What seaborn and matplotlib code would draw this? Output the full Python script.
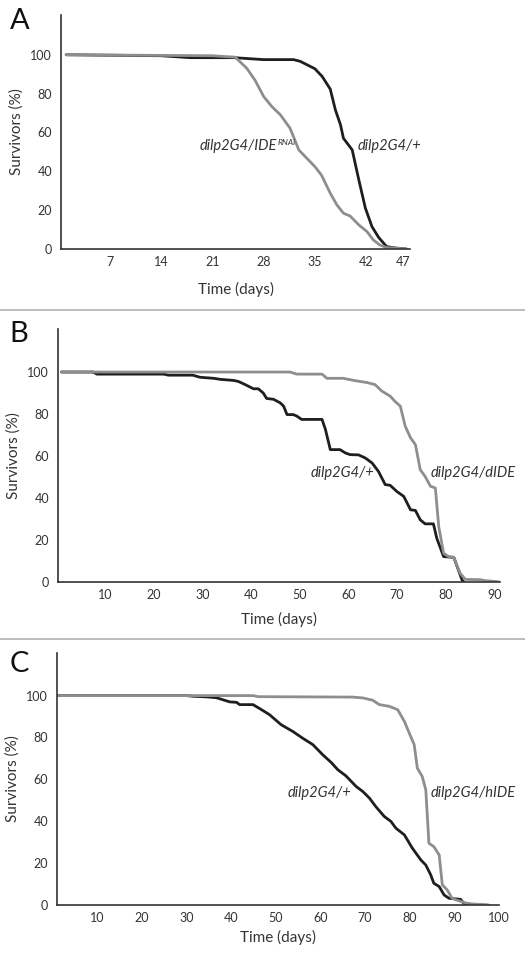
import pandas as pd
import matplotlib.pyplot as plt
import seaborn as sns
from matplotlib.lines import Line2D

# Panel A - survival curves (days, % survivors)
a_ctrl_days = [1, 14, 18, 24, 26, 28, 32.1, 33, 35, 36, 37.1, 37.8, 38.5, 38.9, 40.1, 41, 41.9, 42.8, 43.7, 44.8, 46, 47.5]
a_ctrl_surv = [100, 99.5, 98.5, 98.5, 98, 97.5, 97.5, 96.6, 92.8, 88.8, 82.3, 71.6, 63.9, 57, 51, 35.6, 21, 11.5, 6, 1.2, 0.5, 0]
a_rnai_days = [1, 21, 23, 24.1, 25.7, 26.8, 28, 29.1, 30.3, 31.6, 32.8, 34.1, 35, 35.9, 37.1, 38, 38.9, 39.8, 41, 42.1, 43, 43.9, 44.8, 47.5]
a_rnai_surv = [100, 99.5, 99, 98.8, 93, 87, 78.5, 73.4, 69, 62.2, 51, 45.9, 42.4, 38, 28.7, 22.7, 18.4, 17, 12.4, 9, 4.6, 2, 0.7, 0]

# Panel B
b_ctrl_days = [1, 7.5, 8.3, 22, 23, 28, 29.5, 32.3, 33.7, 36.4, 37.4, 38.8, 40.5, 41.5, 42.5, 43.2, 44.6, 46, 46.7, 47.4, 48.7, 49.4, 50.4,
               54.6, 55.3, 56.3, 58.3, 59.4, 60.4, 62.1, 63.5, 64.9, 66.2, 67.6, 68.6, 70, 71.4, 72.8, 73.8, 74.8, 75.8, 77.5, 78.2,
               79.6, 81.7, 83.4, 83.7]
b_ctrl_surv = [100, 100, 99, 99, 98.5, 98.5, 97.5, 97, 96.5, 96, 95.5, 94, 92, 92, 90, 87.4, 87, 85.3, 83.7, 79.7, 79.7, 79, 77.4,
               77.4, 72.6, 63, 63, 61.4, 60.6, 60.5, 59, 56.6, 52.6, 46.3, 46, 43, 40.7, 34.3, 34, 29.5, 27.6, 27.6, 20.7,
               12, 11.6, 0.8, 0]
b_dide_days = [1, 48, 48.7, 49.4, 54.6, 55.6, 59, 61.1, 63.8, 65.5, 66.9, 68.6, 69.6, 70.7, 71.7, 72.8, 73.8, 74.8, 75.8, 76.9, 77.9,
               78.6, 79.6, 80.6, 81.7, 83.0, 84.1, 87.1, 88.2, 90.9]
b_dide_surv = [100, 100, 99.5, 99, 99, 97, 97, 96, 95, 94, 90.9, 88.5, 86, 83.7, 74.2, 68.6, 65.4, 53.4, 50.2, 45.5, 44.7,
               26.3, 13.6, 12, 11.6, 4, 1.1, 1, 0.5, 0]

# Panel C
c_ctrl_days = [1, 30, 31.5, 34.5, 36.7, 38.2, 39.7, 41.2, 41.9, 44.9, 46.4, 48.6, 51.2, 53.8, 56, 58.3, 60.5, 62.4, 63.9, 65.7, 68,
               69.5, 71, 72.4, 74.3, 75.8, 76.9, 78.8, 80.6, 82.5, 83.6, 84.7, 85.4, 86.6, 87.7, 88.8, 91.4, 92.1, 93.3]
c_ctrl_surv = [100, 100, 99.7, 99.4, 99, 98, 97, 96.8, 95.7, 95.7, 93.8, 90.9, 86.1, 82.9, 79.7, 76.6, 71.8, 68.1, 64.6, 61.7, 56.6,
               54.2, 51, 47, 42.3, 39.9, 36.7, 33.5, 27.1, 21.5, 19.1, 14.4, 10.4, 8.8, 4.8, 3.2, 2.7, 0.8, 0]
c_hide_days = [1, 45, 46, 67.2, 69.5, 71.7, 73.2, 75.4, 77.3, 78.8, 79.9, 81, 81.7, 82.8, 83.6, 84.3, 85.4, 86.6, 87.3, 88.4, 89.5,
               90.3, 92.5, 94, 97, 97.7]
c_hide_surv = [100, 100, 99.5, 99.3, 98.9, 97.8, 95.7, 94.9, 93.3, 87.7, 82.1, 76.6, 65.4, 61.4, 55, 29.5, 27.9, 23.9, 9.6, 7.2, 3.2,
               2.5, 1, 0.5, 0.2, 0]

y_ticks = [0, 20, 40, 60, 80, 100, 120]
y_labels = ['0', '20', '40', '60', '80', '100', '']

BLACK = '#1e1e1e'
GREY = '#8e8e8e'
TXT = '#333333'

sns.set_style("white")
plt.rcParams['font.family'] = ['Lato', 'DejaVu Sans']

fig = plt.figure(figsize=(5.25, 9.59), dpi=100)

panels = [
    dict(letter='A', rect=[0.1162, 0.7404, 0.6648, 0.2440], ly=1 - 21 / 959,
         series=[('dilp2G4/+', a_ctrl_days, a_ctrl_surv, BLACK), ('RNAi', a_rnai_days, a_rnai_surv, GREY)],
         xlim=(0.3, 48), xticks=[7, 14, 21, 28, 35, 42, 47], xlabelpad=10),
    dict(letter='B', rect=[0.1105, 0.3934, 0.8419, 0.2635], ly=1 - 334 / 959,
         series=[('dilp2G4/+', b_ctrl_days, b_ctrl_surv, BLACK), ('dilp2G4/dIDE', b_dide_days, b_dide_surv, GREY)],
         xlim=(0.3, 91.2), xticks=list(range(10, 100, 10)), xlabelpad=8),
    dict(letter='C', rect=[0.1086, 0.0563, 0.8419, 0.2631], ly=1 - 664 / 959,
         series=[('dilp2G4/+', c_ctrl_days, c_ctrl_surv, BLACK), ('dilp2G4/hIDE', c_hide_days, c_hide_surv, GREY)],
         xlim=(1, 100), xticks=list(range(10, 110, 10)), xlabelpad=4),
]

axes = []
for p in panels:
    ax = fig.add_axes(p['rect'])
    frames = []
    for name, d, s, col in p['series']:
        frames.append(pd.DataFrame({'day': d, 'surv': s, 'line': name}))
    df = pd.concat(frames, ignore_index=True)
    pal = {name: col for name, _, _, col in p['series']}
    sns.lineplot(data=df, x='day', y='surv', hue='line', palette=pal, estimator=None, sort=False,
                 linewidth=2.0, legend=False, ax=ax)
    ax.set_xlim(*p['xlim'])
    ax.set_ylim(0, 120.5)
    ax.set_yticks(y_ticks)
    ax.set_yticklabels(y_labels)
    ax.set_xticks(p['xticks'])
    ax.tick_params(axis='both', labelsize=9, length=2.5, width=0.8, color=TXT, labelcolor=TXT, pad=4)
    ax.tick_params(axis='x', length=0, pad=5)
    sns.despine(ax=ax)
    for sp in ['left', 'bottom']:
        ax.spines[sp].set_color(TXT)
        ax.spines[sp].set_linewidth(1.2)
    ax.set_ylabel('Survivors (%)', fontsize=11, color=TXT, labelpad=5)
    ax.set_xlabel('Time (days)', fontsize=11, color=TXT, labelpad=p['xlabelpad'])
    fig.text(0.018, p['ly'], p['letter'], fontsize=21, va='center', ha='left', color='#111111')
    axes.append(ax)

lab = dict(fontsize=10.5, style='italic', color=TXT, va='center', ha='left')
axA, axB, axC = axes
t = axA.text(19.3, 53, 'dilp2G4/IDE', **lab)
axA.annotate('RNAi', xy=(1, 0.78), xycoords=t, fontsize=6, style='italic', color=TXT, va='center', ha='left')
axA.text(40.9, 53, 'dilp2G4/+', clip_on=False, **lab)
axB.text(52.2, 52, 'dilp2G4/+', **lab)
axB.text(76.9, 52, 'dilp2G4/dIDE', clip_on=False, **lab)
axC.text(52.6, 53.7, 'dilp2G4/+', **lab)
axC.text(84.6, 53.7, 'dilp2G4/hIDE', clip_on=False, **lab)

# separator rules between panels
for yy in [1 - 310 / 959, 1 - 639 / 959]:
    fig.add_artist(Line2D([0, 1], [yy, yy], transform=fig.transFigure, color='#b0b0b0', linewidth=1.2))

fig.savefig('out.png', dpi=100)
